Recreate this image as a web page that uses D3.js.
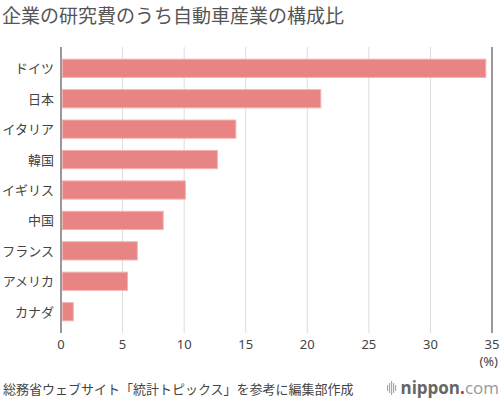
<!DOCTYPE html>
<html>
<head>
    <script src="https://cdnjs.cloudflare.com/ajax/libs/d3/7.8.5/d3.min.js"></script>
    <style>
        body { margin: 0; background: #fff; }
        svg { font-family: "Noto Sans CJK JP", "Noto Sans", sans-serif; }
        .cat-label { fill: #444; font-size: 13px; }
        .tick-label { fill: #444; font-size: 13px; font-family: "Noto Sans", "Noto Sans CJK JP", sans-serif; }
        .grid { stroke: #dcdcdc; stroke-width: 1; }
        .grid.edge { stroke: #999; stroke-width: 2; }
        .bar { fill: #e88584; stroke: #f4b3b3; stroke-width: 1; }
    </style>
</head>
<body>
    <div id="chart"></div>
    <script>
        const width = 500;
        const height = 398;

        // Data
        const countries = ["ドイツ", "日本", "イタリア", "韓国", "イギリス", "中国", "フランス", "アメリカ", "カナダ"];
        const shares = [34.5, 21.1, 14.2, 12.7, 10.1, 8.3, 6.2, 5.4, 1.0];
        const ticks = [0, 5, 10, 15, 20, 25, 30, 35];

        const svg = d3.select("#chart")
            .append("svg")
            .attr("width", width)
            .attr("height", height);

        const x = d3.scaleLinear().domain([0, 35]).range([61, 492]);
        const y = d3.scaleBand().domain(countries).range([47, 333]).padding(0.4);

        // Title
        svg.append("text")
            .attr("x", 2)
            .attr("y", 23)
            .attr("fill", "#555")
            .attr("font-size", 19)
            .text("企業の研究費のうち自動車産業の構成比");

        // Grid lines (0 and 35 drawn darker)
        svg.selectAll(".grid")
            .data(ticks)
            .enter()
            .append("line")
            .attr("class", d => (d === 0 || d === 35) ? "grid edge" : "grid")
            .attr("x1", d => x(d))
            .attr("x2", d => x(d))
            .attr("y1", 47)
            .attr("y2", 333);

        // Bars
        svg.selectAll(".bar")
            .data(countries)
            .enter()
            .append("rect")
            .attr("class", "bar")
            .attr("x", x(0) + 1.5)
            .attr("y", d => y(d))
            .attr("width", (d, i) => x(shares[i]) - x(0) - 1.5)
            .attr("height", y.bandwidth());

        // Category labels
        svg.selectAll(".cat-label")
            .data(countries)
            .enter()
            .append("text")
            .attr("class", "cat-label")
            .attr("x", 54)
            .attr("y", d => y(d) + y.bandwidth() / 2 + 5)
            .attr("text-anchor", "end")
            .text(d => d);

        // Tick labels
        svg.selectAll(".tick-label")
            .data(ticks)
            .enter()
            .append("text")
            .attr("class", "tick-label")
            .attr("x", d => x(d))
            .attr("y", 349)
            .attr("text-anchor", "middle")
            .text(d => d);

        svg.append("text")
            .attr("class", "tick-label")
            .attr("x", 498)
            .attr("y", 366)
            .attr("text-anchor", "end")
            .text("(%)");

        // Source
        svg.append("text")
            .attr("x", 3)
            .attr("y", 394)
            .attr("fill", "#444")
            .attr("font-size", 13)
            .text("総務省ウェブサイト「統計トピックス」を参考に編集部作成");

        // Logo
        const logo = svg.append("g");
        [6, 10, 14, 10, 6].forEach((h, i) => {
            logo.append("rect")
                .attr("x", 387 + i * 2)
                .attr("y", 388 - h / 2)
                .attr("width", 1.2)
                .attr("height", h)
                .attr("fill", "#aaa");
        });
        const logoText = logo.append("text")
            .attr("x", 499)
            .attr("y", 394)
            .attr("text-anchor", "end")
            .attr("font-size", 17)
            .attr("font-family", "'Open Sans', 'Noto Sans', sans-serif");
        logoText.append("tspan").attr("fill", "#666").attr("font-weight", "bold").text("nippon");
        logoText.append("tspan").attr("fill", "#e8222a").attr("font-weight", "bold").text(".");
        logoText.append("tspan").attr("fill", "#999").text("com");
    </script>
</body>
</html>
